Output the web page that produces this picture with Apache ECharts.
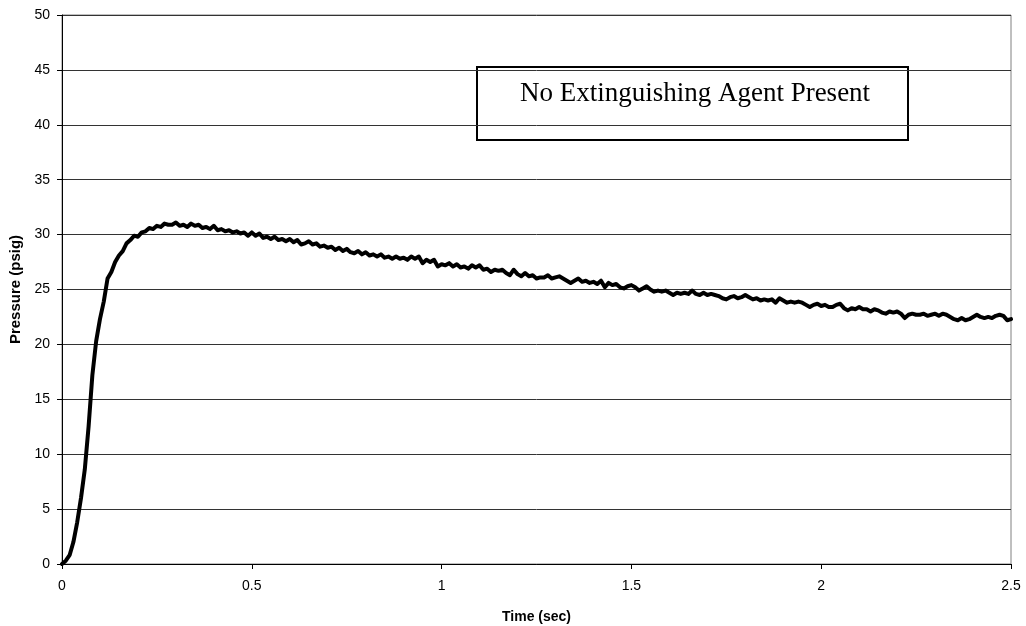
<!DOCTYPE html>
<html>
<head>
<meta charset="utf-8">
<script src="https://cdn.jsdelivr.net/npm/echarts@6/dist/echarts.min.js"></script>
<style>html,body{margin:0;padding:0;background:#fff;}#c{width:1026px;height:626px;}</style>
</head>
<body>
<div id="c"></div>
<script>
const sampleStep = 0.01; // seconds between samples, starting at t = 0
const pressure = [
0.0,0.3,0.8,2.0,3.8,6.0,8.6,12.5,17.2,20.3,
22.3,23.9,26.0,26.6,27.5,28.1,28.5,29.2,29.5,29.9,
29.8,30.2,30.3,30.6,30.5,30.8,30.7,31.0,30.9,30.9,
31.1,30.8,30.9,30.7,31.0,30.8,30.9,30.6,30.7,30.5,
30.8,30.4,30.5,30.3,30.4,30.2,30.3,30.1,30.2,29.9,
30.2,29.9,30.1,29.7,29.8,29.6,29.8,29.5,29.6,29.4,
29.6,29.3,29.5,29.1,29.2,29.4,29.1,29.2,28.9,29.0,
28.8,28.9,28.6,28.8,28.5,28.7,28.4,28.3,28.5,28.2,
28.4,28.1,28.2,28.0,28.2,27.9,28.0,27.8,28.0,27.8,
27.9,27.7,28.0,27.8,28.0,27.4,27.7,27.5,27.7,27.1,
27.3,27.2,27.4,27.1,27.3,27.0,27.1,26.9,27.2,27.0,
27.2,26.8,26.9,26.6,26.8,26.7,26.8,26.5,26.3,26.8,
26.4,26.2,26.5,26.2,26.3,26.0,26.1,26.1,26.3,26.0,
26.1,26.2,26.0,25.8,25.6,25.8,26.0,25.7,25.8,25.6,
25.7,25.5,25.8,25.2,25.6,25.4,25.5,25.2,25.1,25.3,
25.4,25.2,24.9,25.1,25.3,25.0,24.8,24.9,24.8,24.9,
24.7,24.5,24.7,24.6,24.7,24.6,24.9,24.6,24.5,24.7,
24.5,24.6,24.5,24.4,24.2,24.1,24.3,24.4,24.2,24.3,
24.5,24.3,24.1,24.2,24.0,24.1,24.0,24.1,23.8,24.2,
24.0,23.8,23.9,23.8,23.9,23.8,23.6,23.4,23.6,23.7,
23.5,23.6,23.4,23.4,23.6,23.7,23.3,23.1,23.3,23.2,
23.4,23.2,23.2,23.0,23.2,23.1,22.9,22.8,23.0,22.9,
23.0,22.8,22.4,22.7,22.8,22.7,22.7,22.8,22.6,22.7,
22.8,22.6,22.8,22.7,22.5,22.3,22.2,22.4,22.2,22.3,
22.5,22.7,22.5,22.4,22.5,22.4,22.6,22.7,22.6,22.2,
22.3
];
const xTitle = 'Time (sec)';
const yTitle = 'Pressure (psig)';
const annotation = 'No Extinguishing Agent Present';

const seriesData = pressure.map((p, i) => [+(i * sampleStep).toFixed(2), p]);

const chart = echarts.init(document.getElementById('c'), null, {renderer: 'canvas'});
chart.setOption({
  animation: false,
  backgroundColor: '#fff',
  grid: {left: 62, right: 15, top: 15, bottom: 62, outerBoundsMode: 'none', containLabel: false, show: true, borderColor: '#808080', borderWidth: 1, backgroundColor: 'transparent'},
  xAxis: {
    type: 'value', min: 0, max: 2.5, interval: 0.5,
    name: xTitle, nameLocation: 'middle', nameGap: 46,
    nameTextStyle: {fontFamily: 'Liberation Sans', fontWeight: 'bold', fontSize: 14, color: '#000'},
    axisLine: {show: true, lineStyle: {color: '#000', width: 1}},
    axisTick: {show: true, inside: false, length: 5, lineStyle: {color: '#000'}},
    axisLabel: {fontFamily: 'Liberation Sans', fontSize: 14, color: '#000', margin: 15},
    splitLine: {show: false}
  },
  yAxis: {
    type: 'value', min: 0, max: 50, interval: 5,
    name: yTitle, nameLocation: 'middle', nameGap: 36, nameRotate: 90,
    nameTextStyle: {fontFamily: 'Liberation Sans', fontWeight: 'bold', fontSize: 15, color: '#000'},
    axisLine: {show: true, lineStyle: {color: '#000', width: 1}},
    axisTick: {show: true, inside: false, length: 5, lineStyle: {color: '#000'}},
    axisLabel: {fontFamily: 'Liberation Sans', fontSize: 14, color: '#000', margin: 12},
    splitLine: {show: true, lineStyle: {color: '#333', width: 1}}
  },
  series: [{
    type: 'line',
    data: seriesData,
    showSymbol: false,
    smooth: false,
    lineStyle: {color: '#000', width: 4, join: 'round', cap: 'round'},
    z: 5
  }],
  graphic: [{
    type: 'group',
    left: 476, top: 66,
    z: 100,
    children: [
      {type: 'rect', shape: {x: 0, y: 0, width: 431, height: 73}, style: {fill: '#fff', stroke: '#000', lineWidth: 2}},
      {type: 'text', x: 218, y: 27, style: {text: annotation, font: '27px "Liberation Serif"', fill: '#000', textAlign: 'center', textVerticalAlign: 'middle'}}
    ]
  }]
});
</script>
</body>
</html>
